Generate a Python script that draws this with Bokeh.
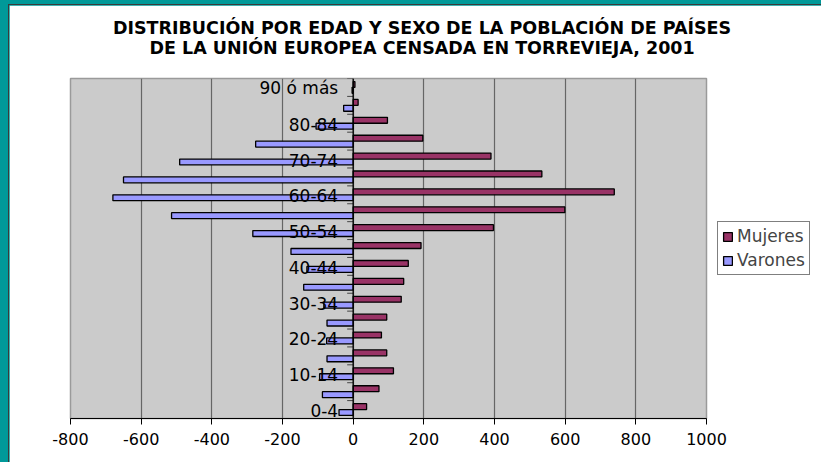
from bokeh.plotting import figure
from bokeh.models import (Range1d, FixedTicker, LinearAxis, Legend, LegendItem,
                          Span, ColumnDataSource)
from bokeh.transform import dodge
from bokeh.core.properties import value
from bokeh.embed import file_html
from bokeh.resources import INLINE

# ---- data ----
ages = ["0-4", "5-9", "10-14", "15-19", "20-24", "25-29", "30-34", "35-39",
        "40-44", "45-49", "50-54", "55-59", "60-64", "65-69", "70-74",
        "75-79", "80-84", "85-89", "90 ó más"]
mujeres = [38, 73, 114, 95, 80, 95, 136, 143, 156, 192, 397, 599, 739, 534,
           390, 197, 97, 14, 5]
varones = [40, 87, 95, 74, 75, 74, 83, 140, 131, 176, 284, 514, 680, 650,
           491, 276, 105, 27, 3]
x_ticks = [-800, -600, -400, -200, 0, 200, 400, 600, 800, 1000]
title_lines = ["DISTRIBUCIÓN POR EDAD Y SEXO DE LA POBLACIÓN DE PAÍSES",
               "DE LA UNIÓN EUROPEA CENSADA EN TORREVIEJA, 2001"]
series_names = ["Mujeres", "Varones"]

FONT = "DejaVu Sans"
idx = list(range(len(ages)))
src = ColumnDataSource(dict(idx=idx, age=ages, muj=mujeres,
                            var=[-v for v in varones]))

W = 812
FW, FH = 636, 340
p = figure(frame_width=FW, frame_height=FH,
           x_range=Range1d(x_ticks[0], x_ticks[-1]),
           y_range=Range1d(-0.5, len(ages) - 0.5),
           output_backend="svg", toolbar_location=None,
           y_axis_location=None,
           min_border_left=61, min_border_right=W - 61 - FW,
           min_border_top=73, min_border_bottom=44,
           background_fill_color="#CBCBCB", border_fill_color="white",
           outline_line_color="#9A9A9A", outline_line_width=1.5)
p.styles = {"border-top": "1px solid #3A3A3A", "border-left": "1px solid #3A3A3A"}

# grid
p.xgrid.ticker = FixedTicker(ticks=x_ticks)
p.xgrid.grid_line_color = "#666666"
p.xgrid.grid_line_width = 1.2
p.ygrid.visible = False

# x axis
p.xaxis.ticker = FixedTicker(ticks=x_ticks)
p.xaxis.major_label_overrides = {t: str(t) for t in x_ticks}
p.xaxis.axis_line_color = "black"
p.xaxis.axis_line_width = 1.2
p.xaxis.major_tick_line_color = "black"
p.xaxis.major_tick_out = 6
p.xaxis.major_tick_in = 0
p.xaxis.minor_tick_out = 0
p.xaxis.minor_tick_in = 0
p.xaxis.major_label_text_font = FONT
p.xaxis.major_label_text_font_size = "16px"
p.xaxis.major_label_text_color = "black"
p.xaxis.major_label_standoff = 8

# category boundary ticks to the left of the zero axis
px_per_unit = FW / (x_ticks[-1] - x_ticks[0])
bnd = [i - 0.5 for i in range(len(ages) + 1)]
p.segment(x0=[-6 / px_per_unit] * len(bnd), x1=[0] * len(bnd), y0=bnd, y1=bnd,
          line_color="#444444", line_width=1)

# bars
rm = p.hbar(y=dodge("idx", 0.165), left=0, right="muj", height=0.33,
            source=src, fill_color="#993366", line_color="black",
            line_width=1.3)
rv = p.hbar(y=dodge("idx", -0.165), left="var", right=0, height=0.33,
            source=src, fill_color="#9999FF", line_color="black",
            line_width=1.3)

# zero axis line
p.add_layout(Span(location=0, dimension="height", line_color="black",
                  line_width=1.3))

# category labels (every other one)
p.text(x=[0] * len(idx[::2]), y=idx[::2], text=ages[::2],
       x_offset=-15, y_offset=1, text_align="right", text_baseline="middle",
       text_font=value(FONT), text_font_size="17px", text_color="black")

# legend (right panel)
legend = Legend(items=[LegendItem(label=series_names[0], renderers=[rm]),
                       LegendItem(label=series_names[1], renderers=[rv])],
                location="center_left", orientation="vertical",
                border_line_color="black", border_line_width=1,
                background_fill_color="white", background_fill_alpha=1,
                label_text_font=FONT, label_text_font_size="17px",
                glyph_width=11, glyph_height=11, label_height=20,
                label_standoff=4, spacing=4, padding=4, margin=11)
p.add_layout(legend, "right")

# two-line title, drawn as single-label axes above the frame (centred on the
# chart area of the original picture); the first added sits nearest the frame
title_x = 195
for line, so in [(title_lines[1], 21), (title_lines[0], -3)]:
    ax = LinearAxis(ticker=FixedTicker(ticks=[title_x]),
                    major_label_overrides={title_x: line},
                    axis_line_color=None, major_tick_line_color=None,
                    minor_tick_line_color=None, major_tick_out=0,
                    major_tick_in=0, minor_tick_out=0, minor_tick_in=0,
                    major_label_standoff=so, major_label_text_font=FONT,
                    major_label_text_font_style="bold",
                    major_label_text_font_size="17.5px",
                    major_label_text_color="black")
    p.add_layout(ax, "above")

html = file_html(p, INLINE, title="Distribución por edad y sexo")
html = html.replace(
    "</head>",
    "<style>html,body{background-color:#009999;margin:0;}"
    "body{padding:4px 0 0 8px;box-sizing:border-box;}</style></head>", 1)
open("out.html", "w").write(html)
